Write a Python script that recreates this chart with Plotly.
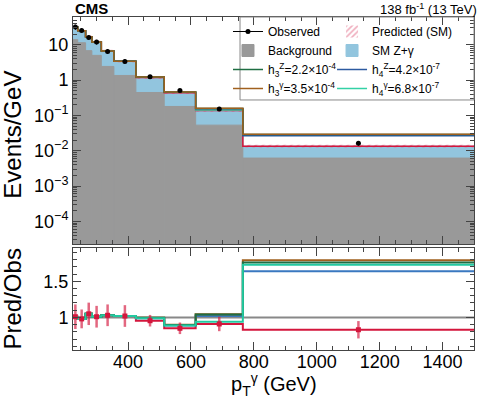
import plotly.graph_objects as go

# photon pT bin edges (GeV)
edges = [225, 240, 265, 285, 315, 355, 425, 515, 615, 765, 1500]

# upper panel, events/GeV
obs = [31.7, 25.4, 16.1, 11.9, 6.46, 3.36, 1.24, 0.51, 0.152, 0.0163]
obs_err = [5.3, 3.4, 2.4, 1.8, 0.94, 0.5, 0.105, 0.049, 0.017, 0.0024]
bkg = [13.9, 11.4, 6.8, 5.0, 2.43, 1.35, 0.445, 0.179, 0.053, 0.0062]
zg = [18.1, 13.5, 10.1, 7.0, 4.22, 2.08, 0.735, 0.261, 0.085, 0.0073]
sm_unc = [2.6, 2.0, 1.4, 1.0, 0.55, 0.28, 0.1, 0.037, 0.012, 0.0012]
h3z = [31.7, 24.9, 16.9, 12.0, 6.65, 3.43, 1.23, 0.456, 0.158, 0.0287]
h3g = [31.7, 24.9, 16.9, 12.0, 6.65, 3.43, 1.23, 0.46, 0.159, 0.0292]
h4z = [31.7, 24.9, 16.9, 12.0, 6.65, 3.43, 1.228, 0.454, 0.155, 0.0267]
h4g = [32.0, 24.9, 16.9, 12.0, 6.65, 3.43, 1.228, 0.454, 0.143, 0.0282]

# lower panel, Pred/Obs
sm_ratio = [1.01, 0.98, 1.05, 1.01, 1.03, 1.02, 0.955, 0.85, 0.91, 0.83]
ratio_err = [0.17, 0.13, 0.155, 0.15, 0.15, 0.15, 0.08, 0.08, 0.10, 0.12]
h3z_ratio = [1.0, 0.98, 1.05, 1.01, 1.03, 1.02, 0.995, 0.895, 1.04, 1.76]
h3g_ratio = [1.0, 0.98, 1.05, 1.01, 1.03, 1.02, 0.995, 0.90, 1.045, 1.79]
h4z_ratio = [1.0, 0.98, 1.05, 1.01, 1.03, 1.02, 0.99, 0.89, 1.02, 1.64]
h4g_ratio = [1.01, 0.98, 1.05, 1.01, 1.03, 1.02, 0.99, 0.89, 0.94, 1.73]

y_tickvals = [1e-4, 1e-3, 1e-2, 1e-1, 1, 10]
y_ticktext = ["10<sup>−4</sup>", "10<sup>−3</sup>", "10<sup>−2</sup>", "10<sup>−1</sup>", "1", "10"]

FONT = "Liberation Sans, Arial, sans-serif"
RED = "#d4163c"
BROWN = "#a0601e"
GREEN = "#1f6e43"
NAVY = "#2c5aa0"
TEAL = "#33d1a5"
GREY = "#999999"
LBLUE = "#92c5de"

centers = [(a + b) / 2 for a, b in zip(edges[:-1], edges[1:])]
widths = [b - a for a, b in zip(edges[:-1], edges[1:])]
sm_total = [b + s for b, s in zip(bkg, zg)]


def step(vals, color, width, xa, ya, **kw):
    return go.Scatter(x=edges, y=vals + vals[-1:], mode="lines", line_shape="hv",
                      line=dict(color=color, width=width), xaxis=xa, yaxis=ya, **kw)


fig = go.Figure()

# upper panel
fig.add_trace(go.Bar(x=centers, y=sm_total, width=widths, marker_color=LBLUE,
                     marker_line=dict(color=LBLUE, width=1), name="SM Z+γ",
                     legend="legend2", legendrank=2, xaxis="x", yaxis="y"))
fig.add_trace(go.Bar(x=centers, y=bkg, width=widths, marker_color=GREY,
                     marker_line=dict(color=GREY, width=1), name="Background",
                     legend="legend", legendrank=2, xaxis="x", yaxis="y"))
fig.add_trace(go.Bar(x=centers, y=[2 * u for u in sm_unc],
                     base=[t - u for t, u in zip(sm_total, sm_unc)], width=widths,
                     marker=dict(color="rgba(0,0,0,0)", line_width=0,
                                 pattern=dict(shape="/", fgcolor="#e05a7a", bgcolor="rgba(0,0,0,0)",
                                              size=5, solidity=0.4)),
                     name="Predicted (SM)", legend="legend2", legendrank=1, xaxis="x", yaxis="y"))
fig.add_trace(step(sm_total, RED, 1.5, "x", "y", showlegend=False))
fig.add_trace(step(h4g, TEAL, 1.5, "x", "y", name="h<sub>4</sub><sup>γ</sup>=6.8×10<sup>-7</sup>",
                   legend="legend2", legendrank=4))
fig.add_trace(step(h4z, NAVY, 1.5, "x", "y", name="h<sub>4</sub><sup>Z</sup>=4.2×10<sup>-7</sup>",
                   legend="legend2", legendrank=3))
fig.add_trace(step(h3z, GREEN, 1.5, "x", "y", name="h<sub>3</sub><sup>Z</sup>=2.2×10<sup>-4</sup>",
                   legend="legend", legendrank=3))
fig.add_trace(step(h3g, BROWN, 1.5, "x", "y", name="h<sub>3</sub><sup>γ</sup>=3.5×10<sup>-4</sup>",
                   legend="legend", legendrank=4))
fig.add_trace(go.Scatter(x=centers, y=obs, mode="markers", marker=dict(color="black", size=5),
                         error_y=dict(type="data", array=obs_err, color="black", thickness=1, width=0),
                         showlegend=False, xaxis="x", yaxis="y"))
fig.add_trace(go.Scatter(x=[None], y=[None], mode="lines+markers", line=dict(color="black", width=1),
                         marker=dict(color="black", size=5), name="Observed", legend="legend",
                         legendrank=1, xaxis="x", yaxis="y"))

# lower panel
fig.add_trace(step(sm_ratio, RED, 2, "x2", "y2", showlegend=False))
fig.add_trace(step(h4z_ratio, "#3a78c0", 2, "x2", "y2", showlegend=False))
fig.add_trace(step(h3g_ratio, BROWN, 2, "x2", "y2", showlegend=False))
fig.add_trace(step(h3z_ratio, GREEN, 2, "x2", "y2", showlegend=False))
fig.add_trace(step(h4g_ratio, "#22c9a0", 2, "x2", "y2", showlegend=False))
fig.add_trace(go.Scatter(x=centers, y=sm_ratio, mode="markers",
                         marker=dict(color=RED, size=5, symbol="square"),
                         error_y=dict(type="data", array=ratio_err, color="rgba(212,22,60,0.65)",
                                      thickness=2.5, width=0),
                         showlegend=False, xaxis="x2", yaxis="y2"))

axis_common = dict(showline=True, linecolor="#444", linewidth=1, mirror="ticks", ticks="inside",
                   tickcolor="#444", showgrid=False, zeroline=False,
                   tickfont=dict(family=FONT, size=18, color="black"))

fig.update_layout(
    width=488, height=414,
    margin=dict(l=73, r=14, t=17, b=64),
    paper_bgcolor="white", plot_bgcolor="white",
    barmode="overlay",
    font=dict(family=FONT, color="black"),
    xaxis=dict(domain=[0, 1], anchor="y", range=[225, 1500], showticklabels=False,
               tickmode="linear", tick0=0, dtick=200, ticklen=8,
               minor=dict(ticks="inside", dtick=50, ticklen=4, tickcolor="#444"), **axis_common),
    yaxis=dict(domain=[0.3183, 1], anchor="x", type="log", range=[-4.64, 1.785],
               tickmode="array", tickvals=y_tickvals, ticktext=y_ticktext, ticklen=8,
               minor=dict(ticks="inside", dtick="D1", ticklen=4, tickcolor="#444"), **axis_common),
    xaxis2=dict(domain=[0, 1], anchor="y2", range=[225, 1500], matches="x",
                tickmode="linear", tick0=0, dtick=200, ticklen=8, ticklabelstandoff=-5,
                minor=dict(ticks="inside", dtick=50, ticklen=4, tickcolor="#444"), **axis_common),
    yaxis2=dict(domain=[0, 0.3063], anchor="x2", range=[0.55, 1.96],
                tickmode="array", tickvals=[1, 1.5], ticktext=["1", "1.5"], ticklen=8,
                minor=dict(ticks="inside", dtick=0.1, ticklen=4, tickcolor="#444"), **axis_common),
    legend=dict(x=0.3865, y=1.0, xanchor="left", yanchor="top", bgcolor="rgba(0,0,0,0)",
                font=dict(family=FONT, size=12), itemwidth=30, tracegroupgap=0),
    legend2=dict(x=0.646, y=1.0, xanchor="left", yanchor="top", bgcolor="rgba(0,0,0,0)",
                 font=dict(family=FONT, size=12), itemwidth=30, tracegroupgap=0),
    shapes=[
        dict(type="line", xref="x2", yref="y2", x0=225, x1=1500, y0=1, y1=1,
             line=dict(color="#888", width=2), layer="below"),
        dict(type="rect", xref="paper", yref="paper", x0=0.4165, x1=1, y0=0.7508, y1=1,
             line=dict(color="#888", width=1)),
    ],
    annotations=[
        dict(text="<b>CMS</b>", xref="paper", yref="paper", x=0, y=1.0255, xanchor="left",
             yanchor="middle", showarrow=False, font=dict(family=FONT, size=15)),
        dict(text="138 fb<sup>-1</sup> (13 TeV)", xref="paper", yref="paper", x=1.012, y=1.0255,
             xanchor="right", yanchor="middle", showarrow=False, font=dict(family=FONT, size=13)),
        dict(text="Events/GeV", xref="paper", yref="paper", x=-0.151, y=0.648, textangle=-90,
             xanchor="center", yanchor="middle", showarrow=False, font=dict(family=FONT, size=24)),
        dict(text="Pred/Obs", xref="paper", yref="paper", x=-0.151, y=0.153, textangle=-90,
             xanchor="center", yanchor="middle", showarrow=False, font=dict(family=FONT, size=24)),
        dict(text="p<sub>T</sub><sup>γ</sup> (GeV)", xref="paper", yref="paper", x=0.5, y=-0.104,
             xanchor="center", yanchor="middle", showarrow=False, font=dict(family=FONT, size=20)),
    ],
)

fig.write_html("out.html", config={"displayModeBar": False},
               post_script="document.body.style.margin='0px';")
